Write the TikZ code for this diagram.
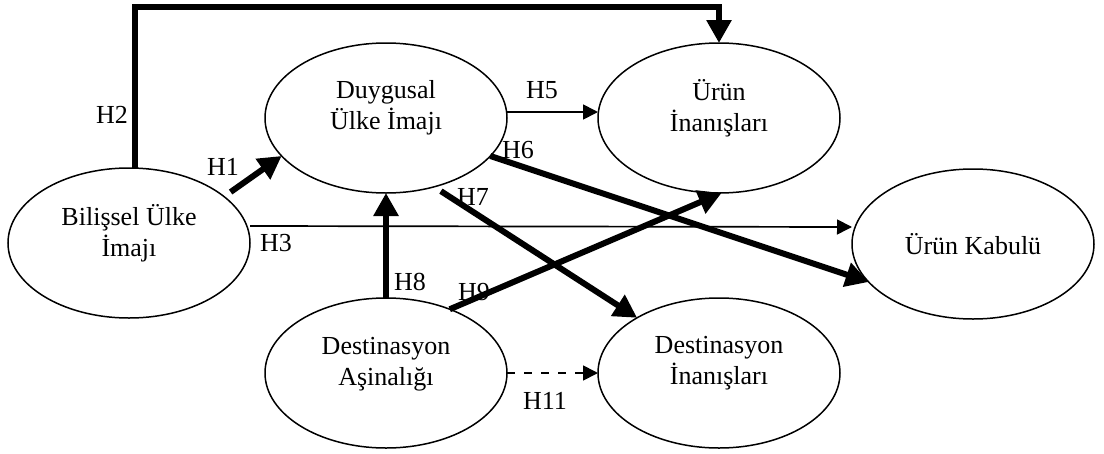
\documentclass[tikz,border=0pt]{standalone}
\usepackage{fontspec}
\setmainfont{Liberation Serif}
\usetikzlibrary{arrows.meta,shapes.geometric}
\begin{document}
\begin{tikzpicture}[x=1pt,y=-1pt,
  ell/.style={draw, ellipse, line width=1.5pt, minimum width=242pt,
    minimum height=150pt, inner sep=0pt, outer sep=0pt},
  txt/.style={align=center, font=\fontsize{26}{31}\selectfont, inner sep=0pt},
  lbl/.style={font=\fontsize{26}{31}\selectfont, inner sep=0pt},
  thin arrow/.style={line width=1.7pt, -{Triangle[length=15pt,width=15pt]}},
  bold arrow/.style={line width=6pt, -{Triangle[length=23pt,width=24pt]}},
]
\fill[white] (0,0) rectangle (1104,453);
\useasboundingbox (0,0) rectangle (1104,453);

% constructs
\node[ell] (bil) at (129,243) {};
\node[ell] (duy) at (386,118) {};
\node[ell] (uin) at (719,118) {};
\node[ell] (kab) at (973,244) {};
\node[ell] (das) at (386,373) {};
\node[ell] (din) at (719,373) {};

\node[txt] (bilt) at ([yshift=10pt]bil.center) {Bilişsel Ülke\\İmajı};
\node[txt] (duyt) at ([yshift=10pt]duy.center) {Duygusal\\Ülke İmajı};
\node[txt] (uint) at ([yshift=10pt]uin.center) {Ürün\\İnanışları};
\node[txt] (kabt) at (kab.center) {Ürün Kabulü};
\node[txt] (dast) at ([yshift=9pt]das.center) {Destinasyon\\Aşinalığı};
\node[txt] (dint) at ([yshift=10pt]din.center) {Destinasyon\\İnanışları};

% hypothesised paths
\draw[bold arrow] ([xshift=6pt]bil.north) |- ([yshift=36pt]uin.north) -- (uin.north);
\draw[bold arrow, shorten <=8pt] (bil.26) -- (duy.200);
\draw[thin arrow] ([yshift=6pt]duy.east) -- ([yshift=6pt]uin.west);
\draw[bold arrow] (duy.-20) -- (kab.200);
\draw[bold arrow, shorten <=8pt] (duy.-55) -- (din.146);
\draw[thin arrow] ([yshift=17pt]bil.east) -- ([yshift=17pt]kab.west);
\draw[bold arrow] (das.north) -- (duy.south);
\draw[bold arrow] (das.45) -- (uin.-88);
\draw[thin arrow, dash pattern=on 8pt off 9pt] (das.east) -- (din.west);

% path labels
\node[lbl] (h2) at (112,115) {H2};
\node[lbl] (h1) at (223,167) {H1};
\node[lbl] (h5) at (542,90) {H5};
\node[lbl] (h6) at (518,150) {H6};
\node[lbl] (h7) at (473,197) {H7};
\node[lbl] (h3) at (276,243) {H3};
\node[lbl] (h8) at (410,282) {H8};
\node[lbl] (h9) at (474,292) {H9};
\node[lbl] (h11) at (545,401) {H11};
\end{tikzpicture}
\end{document}
